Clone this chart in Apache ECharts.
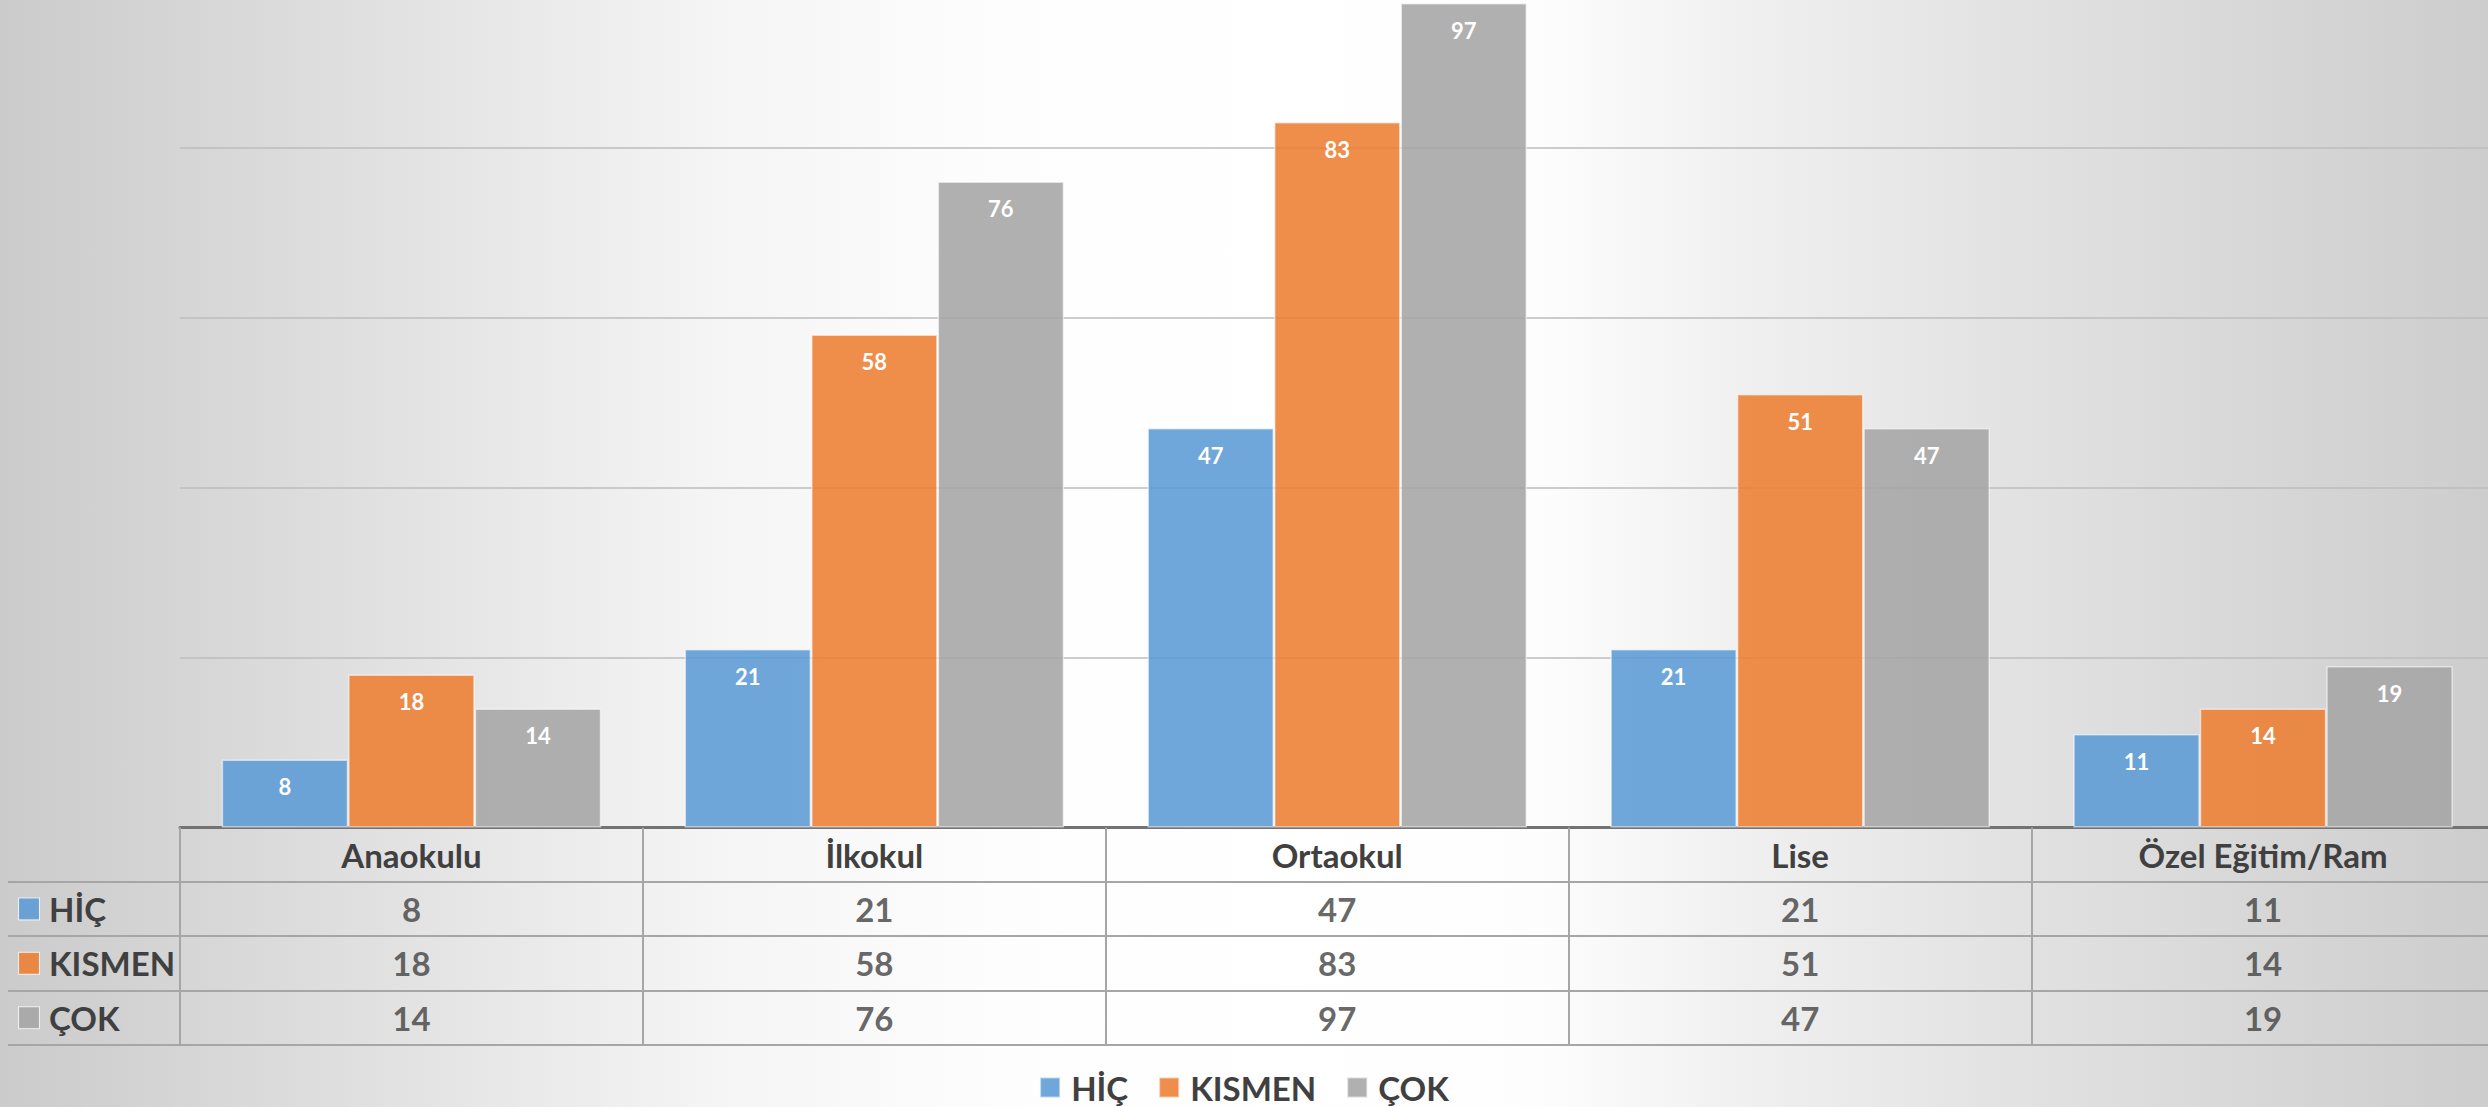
<!DOCTYPE html>
<html>
<head>
<meta charset="utf-8">
<title>Okul türüne göre dağılım</title>
<style>
  html, body { margin: 0; padding: 0; }
  #chart { width: 2488px; height: 1107px; }
</style>
<script src="https://cdn.jsdelivr.net/npm/echarts@6/dist/echarts.min.js"></script>
</head>
<body>
<div id="chart"></div>
<script>
// School levels on the category axis
const categories = ['Anaokulu', 'İlkokul', 'Ortaokul', 'Lise', 'Özel Eğitim/Ram'];

// Answer groups and their counts per school level
const seriesNames = ['HİÇ', 'KISMEN', 'ÇOK'];
const hic    = [8, 21, 47, 21, 11];
const kismen = [18, 58, 83, 51, 14];
const cok    = [14, 76, 97, 47, 19];

// Value axis range (no tick labels are shown, only the grid lines)
const yMin = 0;
const yMax = 100;
const yStep = 20;

const seriesValues = [hic, kismen, cok];
const seriesColors = ['rgba(91,155,213,0.88)', 'rgba(237,125,49,0.88)', 'rgba(165,165,165,0.88)'];

const FONT = 'Lato, "Open Sans", sans-serif';
const TEXT = '#404040';
const RULE = '#a6a6a6';
const TABLE_FONT_SIZE = 33;

// Layout of the plot and of the data table underneath it
const PLOT_LEFT = 180;
const PLOT_RIGHT = -6.5;
const PLOT_TOP = -22.5;
const PLOT_HEIGHT = 850;
const HEADER_H = 54.2;
const TABLE_TOP = PLOT_TOP + PLOT_HEIGHT + HEADER_H;
const ROW_H = 54.4;
const LABEL_COL_W = 172;

const ruleStyle = { color: RULE, width: 2 };

// One table cell per (school level, answer group)
const cells = [];
seriesValues.forEach((vals, r) => vals.forEach((v, c) => cells.push([c, r, v])));

const rowRich = {
  t: { fontFamily: FONT, fontSize: TABLE_FONT_SIZE, fontWeight: 'bold', color: TEXT, padding: [0, 0, 0, 10] }
};
seriesColors.forEach((col, i) => {
  rowRich['m' + i] = { width: 20, height: 21, backgroundColor: col,
                       borderColor: 'rgba(255,255,255,0.7)', borderWidth: 1 };
});

const chart = echarts.init(document.getElementById('chart'), null, { renderer: 'svg' });

chart.setOption({
  animation: false,
  backgroundColor: {
    type: 'linear', x: 0, y: 0, x2: 1, y2: 0,
    colorStops: [
      { offset: 0.00, color: '#cbcbcb' },
      { offset: 0.16, color: '#e2e2e2' },
      { offset: 0.29, color: '#f5f5f5' },
      { offset: 0.40, color: '#fdfdfd' },
      { offset: 0.52, color: '#ffffff' },
      { offset: 0.62, color: '#fdfdfd' },
      { offset: 0.70, color: '#f0f0f0' },
      { offset: 0.80, color: '#e3e3e3' },
      { offset: 1.00, color: '#cdcdcd' }
    ]
  },
  legend: {
    data: seriesNames,
    left: 'center',
    top: 1066,
    icon: 'rect',
    itemWidth: 20,
    itemHeight: 20,
    itemGap: 30,
    selectedMode: false,
    textStyle: { fontFamily: FONT, fontSize: TABLE_FONT_SIZE, fontWeight: 'bold', color: TEXT, padding: [0, 0, 0, 6] }
  },
  grid: [
    { left: PLOT_LEFT, right: PLOT_RIGHT, top: PLOT_TOP, height: PLOT_HEIGHT,
      containLabel: false, outerBoundsMode: 'none' },
    { left: PLOT_LEFT, right: PLOT_RIGHT, top: TABLE_TOP, height: ROW_H * seriesNames.length,
      containLabel: false, outerBoundsMode: 'none' }
  ],
  xAxis: [
    {
      gridIndex: 0, type: 'category', data: categories,
      axisLine: { show: true, lineStyle: { color: '#737373', width: 3 } },
      axisTick: { show: false }, axisLabel: { show: false }, splitLine: { show: false }
    },
    {
      gridIndex: 1, type: 'category', data: categories, position: 'top',
      axisLine: { show: true, lineStyle: ruleStyle },
      axisTick: { show: true, interval: 0, length: HEADER_H, lineStyle: ruleStyle },
      axisLabel: { show: true, interval: 0, margin: 27, verticalAlign: 'middle',
                   fontFamily: FONT, fontSize: TABLE_FONT_SIZE, fontWeight: 'bold', color: TEXT },
      splitLine: { show: true, interval: 0, lineStyle: ruleStyle }
    }
  ],
  yAxis: [
    {
      gridIndex: 0, type: 'value', min: yMin, max: yMax, interval: yStep,
      axisLine: { show: false }, axisTick: { show: false }, axisLabel: { show: false },
      splitLine: { show: true, lineStyle: { color: '#bcbcbc', width: 1.5 } }
    },
    {
      gridIndex: 1, type: 'category', data: seriesNames, inverse: true,
      axisLine: { show: true, lineStyle: ruleStyle },
      axisTick: { show: true, interval: 0, length: LABEL_COL_W, lineStyle: ruleStyle },
      axisLabel: {
        show: true, interval: 0, align: 'left', margin: LABEL_COL_W - 11,
        formatter: (v, i) => '{m' + i + '| }{t|' + v + '}',
        rich: rowRich
      },
      splitLine: { show: true, interval: 0, lineStyle: ruleStyle }
    },
    {
      gridIndex: 1, type: 'category', data: seriesNames, inverse: true, offset: LABEL_COL_W,
      axisLine: { show: true, lineStyle: ruleStyle },
      axisTick: { show: false }, axisLabel: { show: false }, splitLine: { show: false }
    }
  ],
  series: seriesNames.map((name, i) => ({
    type: 'bar',
    name: name,
    data: seriesValues[i],
    xAxisIndex: 0,
    yAxisIndex: 0,
    barGap: '0%',
    barCategoryGap: '18%',
    itemStyle: { color: seriesColors[i], borderColor: 'rgba(255,255,255,0.55)', borderWidth: 1.5 },
    label: { show: true, position: 'insideTop', distance: 16, color: '#ffffff',
             fontFamily: FONT, fontSize: 22, fontWeight: 'bold' },
    emphasis: { disabled: true }
  })).concat([{
    type: 'scatter',
    name: 'tablo',
    xAxisIndex: 1,
    yAxisIndex: 1,
    data: cells,
    symbolSize: 1,
    silent: true,
    itemStyle: { color: 'rgba(0,0,0,0)' },
    label: { show: true, position: 'inside', formatter: p => p.value[2],
             fontFamily: FONT, fontSize: TABLE_FONT_SIZE, fontWeight: 'bold', color: TEXT },
    emphasis: { disabled: true }
  }])
});
</script>
</body>
</html>
